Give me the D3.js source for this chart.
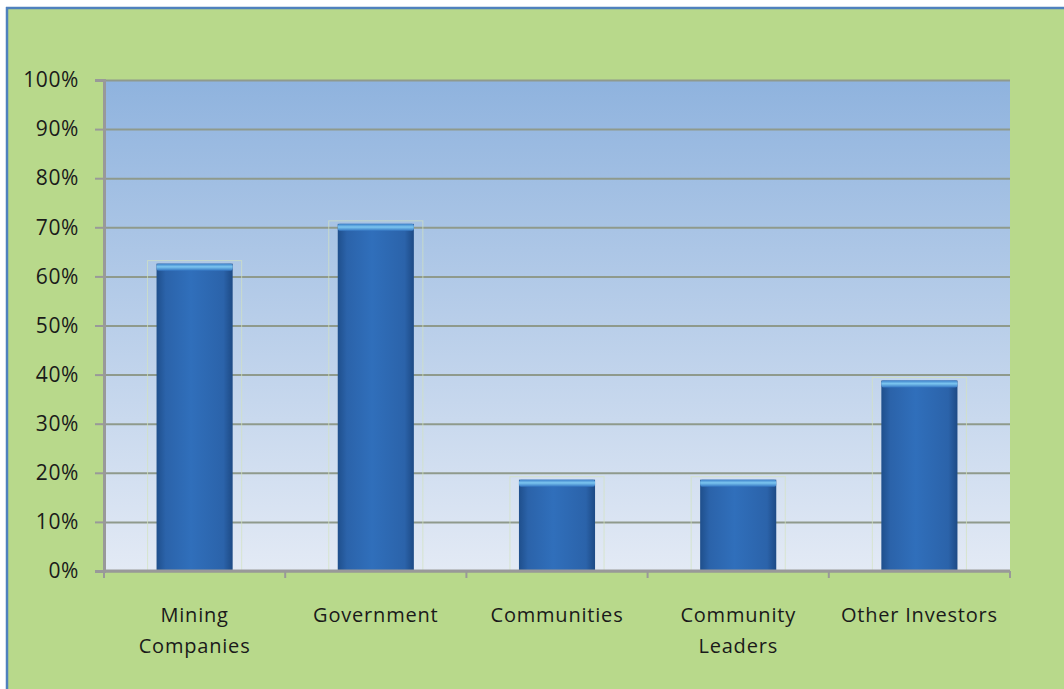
<!DOCTYPE html>
<html>
<head>
<meta charset="utf-8">
<script src="https://cdn.jsdelivr.net/npm/d3@7"></script>
<style>
  body { margin: 0; background: #fff; }
  svg { display: block; }
</style>
</head>
<body>
<div id="chart"></div>
<script>
// chart data
const categories = [["Mining", "Companies"], ["Government"], ["Communities"], ["Community", "Leaders"], ["Other Investors"]];
const values = [62.6, 70.7, 18.6, 18.6, 38.8];
const yTicks = [0, 10, 20, 30, 40, 50, 60, 70, 80, 90, 100];

const width = 1064, height = 689;
const margin = { top: 80, right: 54, bottom: 118, left: 104 };
const w = width - margin.left - margin.right;
const h = height - margin.top - margin.bottom;

const svg = d3.select('#chart').append('svg')
  .attr('width', width)
  .attr('height', height);

const defs = svg.append('defs');

// plot area gradient
const bg = defs.append('linearGradient').attr('id', 'bg').attr('x1', 0).attr('y1', 0).attr('x2', 0).attr('y2', 1);
bg.append('stop').attr('offset', '0%').attr('stop-color', '#8fb3de');
bg.append('stop').attr('offset', '100%').attr('stop-color', '#e3eaf5');

// bar body gradient
const barG = defs.append('linearGradient').attr('id', 'bar').attr('x1', 0).attr('y1', 0).attr('x2', 1).attr('y2', 0);
barG.append('stop').attr('offset', '0%').attr('stop-color', '#1f4f8c');
barG.append('stop').attr('offset', '12%').attr('stop-color', '#2b63aa');
barG.append('stop').attr('offset', '45%').attr('stop-color', '#306fbb');
barG.append('stop').attr('offset', '88%').attr('stop-color', '#2b63aa');
barG.append('stop').attr('offset', '100%').attr('stop-color', '#1d4a85');

const capG = defs.append('linearGradient').attr('id', 'cap').attr('x1', 0).attr('y1', 0).attr('x2', 0).attr('y2', 1);
capG.append('stop').attr('offset', '0%').attr('stop-color', '#3b7fc9');
capG.append('stop').attr('offset', '45%').attr('stop-color', '#7cc6f0');
capG.append('stop').attr('offset', '100%').attr('stop-color', '#3476c2');

// outer green panel with blue border
svg.append('rect')
  .attr('x', 7).attr('y', 8)
  .attr('width', width).attr('height', height)
  .attr('fill', '#b8d98b');
svg.append('line').attr('x1', 6).attr('x2', width).attr('y1', 8).attr('y2', 8)
  .attr('stroke', '#4f81bd').attr('stroke-width', 2.5);
svg.append('line').attr('x1', 7).attr('x2', 7).attr('y1', 7).attr('y2', height)
  .attr('stroke', '#4f81bd').attr('stroke-width', 2.5);

const g = svg.append('g').attr('transform', `translate(${margin.left},${margin.top})`);

const x = d3.scaleBand()
  .domain(categories.map(d => d.join(' ')))
  .range([0, w])
  .paddingInner(0.58)
  .paddingOuter(0.29);

const y = d3.scaleLinear().domain([0, 100]).range([h, 0]);

g.append('rect')
  .attr('width', w).attr('height', h)
  .attr('fill', 'url(#bg)');

// gridlines
g.append('g')
  .call(d3.axisLeft(y).tickValues(yTicks).tickSize(-w).tickFormat(''))
  .call(s => s.select('.domain').remove())
  .selectAll('line')
  .attr('stroke', '#8f9a8c').attr('stroke-width', 2);

// faint halo boxes behind bars
const halo = 9;
g.selectAll('.halo')
  .data(values)
  .join('rect')
  .attr('class', 'halo')
  .attr('x', (d, i) => x(categories[i].join(' ')) - halo)
  .attr('y', d => y(d) - 3)
  .attr('width', x.bandwidth() + halo * 2)
  .attr('height', d => h - y(d) + 3)
  .attr('fill', 'none')
  .attr('stroke', '#d3e3bf')
  .attr('stroke-opacity', 0.7)
  .attr('stroke-width', 1);

// bars
const bars = g.selectAll('.bar')
  .data(values)
  .join('g')
  .attr('class', 'bar')
  .attr('transform', (d, i) => `translate(${x(categories[i].join(' '))},0)`);

bars.append('rect')
  .attr('y', d => y(d))
  .attr('width', x.bandwidth())
  .attr('height', d => h - y(d))
  .attr('fill', 'url(#bar)');

bars.append('rect')
  .attr('y', d => y(d))
  .attr('width', x.bandwidth())
  .attr('height', 7)
  .attr('rx', 2)
  .attr('fill', 'url(#cap)');

// y axis
const yAxis = g.append('g')
  .call(d3.axisLeft(y).tickValues(yTicks).tickSize(9).tickPadding(16).tickFormat(d => d + '%'));
yAxis.select('.domain').attr('stroke', '#999').attr('stroke-width', 3);
yAxis.selectAll('.tick line').attr('stroke', '#999').attr('stroke-width', 2);
yAxis.selectAll('text')
  .attr('fill', '#1a1a1a')
  .style('font-family', 'Open Sans, sans-serif')
  .style('font-size', '21px')
  .style('letter-spacing', '0.6px');

// x axis: ticks at category boundaries
const xAxis = g.append('g').attr('transform', `translate(0,${h})`);
xAxis.append('line').attr('x1', 0).attr('x2', w)
  .attr('stroke', '#999').attr('stroke-width', 3);
const step = x.step();
xAxis.selectAll('.bound')
  .data(d3.range(categories.length + 1))
  .join('line')
  .attr('class', 'bound')
  .attr('x1', i => i * step)
  .attr('x2', i => i * step)
  .attr('y1', 0).attr('y2', 7)
  .attr('stroke', '#999').attr('stroke-width', 2);

const labels = xAxis.selectAll('.cat')
  .data(categories)
  .join('text')
  .attr('class', 'cat')
  .attr('x', d => x(d.join(' ')) + x.bandwidth() / 2)
  .attr('y', 51)
  .attr('text-anchor', 'middle')
  .attr('fill', '#1a1a1a')
  .style('font-family', 'Open Sans, sans-serif')
  .style('font-size', '20px')
  .style('letter-spacing', '0.8px');
labels.selectAll('tspan')
  .data(d => d)
  .join('tspan')
  .attr('x', function () { return d3.select(this.parentNode).attr('x'); })
  .attr('dy', (d, i) => i === 0 ? 0 : 31)
  .text(d => d);
</script>
</body>
</html>
